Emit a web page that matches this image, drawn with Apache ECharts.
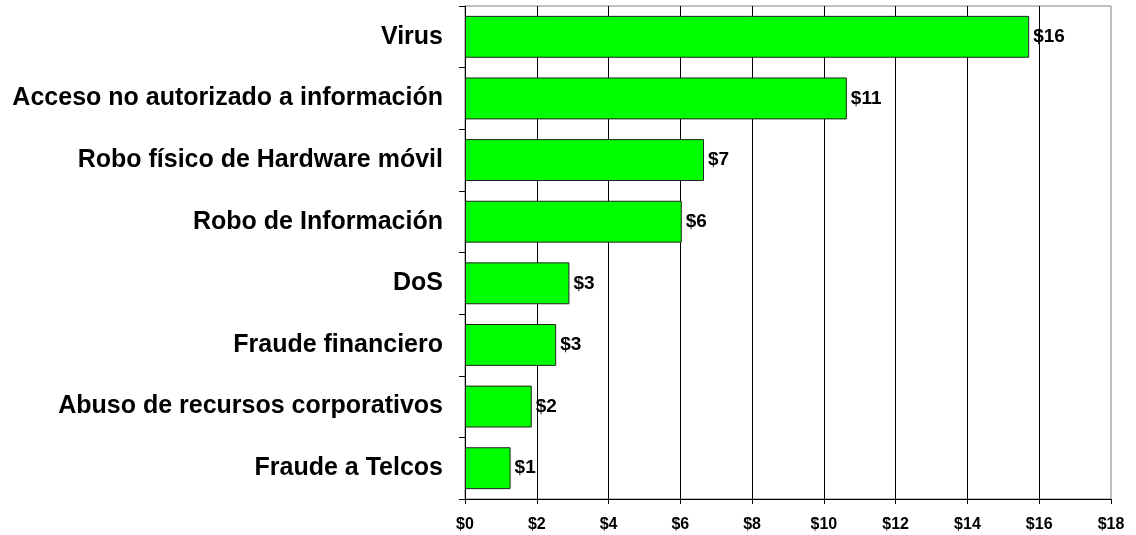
<!DOCTYPE html>
<html lang="es">
<head>
    <meta charset="UTF-8">
    <title>Pérdidas por tipo de incidente</title>
    <script type="text/javascript" src="https://cdn.jsdelivr.net/npm/echarts@6/dist/echarts.min.js"></script>
    <style>
        html, body { margin: 0; padding: 0; background: #fff; }
        #chart { width: 1136px; height: 535px; }
    </style>
</head>
<body>
<div id="chart"></div>
<script type="text/javascript">
    // categorias, de arriba hacia abajo
    var categorias = ['Virus', 'Acceso no autorizado a información', 'Robo físico de Hardware móvil',
        'Robo de Información', 'DoS', 'Fraude financiero', 'Abuso de recursos corporativos', 'Fraude a Telcos'];
    var perdidas = [15.72, 10.64, 6.66, 6.04, 2.91, 2.54, 1.86, 1.27];
    var ejeMin = 0, ejeMax = 18, ejePaso = 2;

    var chart = echarts.init(document.getElementById('chart'));
    var fuente = 'Liberation Sans, Arial, sans-serif';

    var option = {
        animation: false,
        grid: {
            left: 465, right: 25, top: 6, bottom: 36,
            show: true, borderColor: '#808080', borderWidth: 1
        },
        xAxis: {
            type: 'value',
            min: ejeMin, max: ejeMax, interval: ejePaso,
            axisLine: { show: true, lineStyle: { color: '#000', width: 1 } },
            axisTick: { show: true, length: 5, lineStyle: { color: '#000' } },
            axisLabel: {
                margin: 18,
                color: '#000', fontFamily: fuente, fontWeight: 'bold', fontSize: 16,
                formatter: function (v) { return '$' + v; }
            },
            splitLine: { show: true, showMaxLine: false, lineStyle: { color: '#000', width: 1 } }
        },
        yAxis: {
            type: 'category',
            inverse: true,
            data: categorias,
            axisLine: { show: true, lineStyle: { color: '#000', width: 1 } },
            axisTick: { show: true, length: 6, lineStyle: { color: '#000' } },
            axisLabel: {
                margin: 22,
                color: '#000', fontFamily: fuente, fontWeight: 'bold', fontSize: 25
            },
            splitLine: { show: false }
        },
        series: [{
            type: 'bar',
            data: perdidas,
            barWidth: '68%',
            itemStyle: { color: '#00ff00', borderColor: '#222', borderWidth: 1 },
            label: {
                show: true, position: 'right', distance: 4,
                color: '#000', fontFamily: fuente, fontWeight: 'bold', fontSize: 19,
                formatter: function (p) { return '$' + Math.round(p.value); }
            }
        }]
    };
    chart.setOption(option);
</script>
</body>
</html>
